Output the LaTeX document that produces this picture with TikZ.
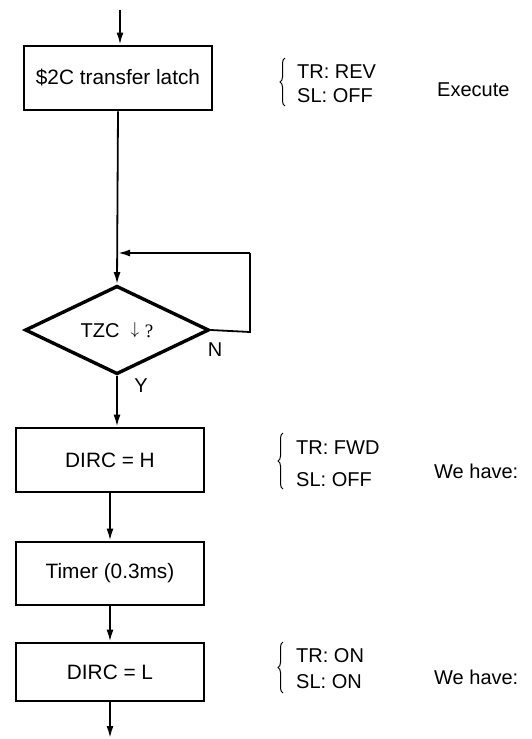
\documentclass[tikz,border=0pt]{standalone}
\usepackage{fontspec}
\setmainfont{Liberation Sans}
\newfontfamily\serifq{Liberation Serif}
\usetikzlibrary{arrows.meta,shapes.geometric,decorations.pathreplacing}
\begin{document}
\begin{tikzpicture}[x=1pt,y=-1pt,
  font=\fontsize{20}{24}\selectfont,
  procbox/.style={draw,line width=2.8pt,minimum width=188pt,inner sep=0pt,font=\fontsize{20.8}{24}\selectfont},
  conn/.style={line width=1.8pt},
  arr/.style={conn,-{Latex[length=12pt,width=7pt]}},
  side/.style={anchor=base west,inner sep=0pt},
  curly/.style={decorate,decoration={brace,amplitude=5pt},line width=1pt},
  lbl/.style={inner sep=0pt}
]
\useasboundingbox[fill=white] (0,0) rectangle (531,739);
% flow nodes
\coordinate (start) at (120,10);
\node[procbox,minimum height=64pt] (box1) at (118,78) {\$2C transfer latch};
\coordinate (join) at (118,253);
\node[draw,diamond,line width=3.4pt,minimum width=184pt,minimum height=86pt,inner sep=0pt] (dia) at (117,330) {TZC\ \ {\fontsize{17}{20}\selectfont\raisebox{3.5pt}{$\downarrow$}}\ {\serifq\fontsize{19}{22}\selectfont ?}};
\coordinate (loopr) at (250,332);
\node[procbox,minimum height=64pt] (dirch) at (110,460) {DIRC = H};
\node[procbox,minimum height=63pt] (timer) at (110,573.5) {Timer (0.3ms)};
\node[procbox,minimum height=58pt] (dircl) at (110,672) {DIRC = L};
\coordinate (end) at (110,738);
% connectors
\draw[arr] (start) -- (start |- box1.north);
\draw[arr] (box1.south) -- (dia.north);
\draw[conn] (dia.east) -- (loopr) -- (loopr |- join);
\draw[arr] (loopr |- join) -- (join);
\draw[arr] (dia.south) -- (dia.south |- dirch.north);
\draw[arr] (dirch.south) -- (timer.north);
\draw[arr] (timer.south) -- (dircl.north);
\draw[arr] (dircl.south) -- (end);
% branch labels
\node[lbl] (nlab) at (215,350) {N};
\node[lbl] (ylab) at (141,386) {Y};
% side notes group 1
\coordinate (b1t) at (285,58);
\coordinate (b1b) at (285,106);
\draw[curly] (b1b) -- (b1t);
\node[side] (tr1) at (297,78) {TR: REV};
\node[side] (sl1) at (297,102) {SL: OFF};
\node[side] (ex1) at (437,96) {Execute};
% group 2
\coordinate (b2t) at (283,433);
\coordinate (b2b) at (283,489);
\draw[curly] (b2b) -- (b2t);
\node[side] (tr2) at (296,454) {TR: FWD};
\node[side] (sl2) at (296,486) {SL: OFF};
\node[side] (wh2) at (434,478) {We have:};
% group 3
\coordinate (b3t) at (283,642);
\coordinate (b3b) at (283,693);
\draw[curly] (b3b) -- (b3t);
\node[side] (tr3) at (296,662) {TR: ON};
\node[side] (sl3) at (296,688) {SL: ON};
\node[side] (wh3) at (434,684) {We have:};
\end{tikzpicture}
\end{document}
